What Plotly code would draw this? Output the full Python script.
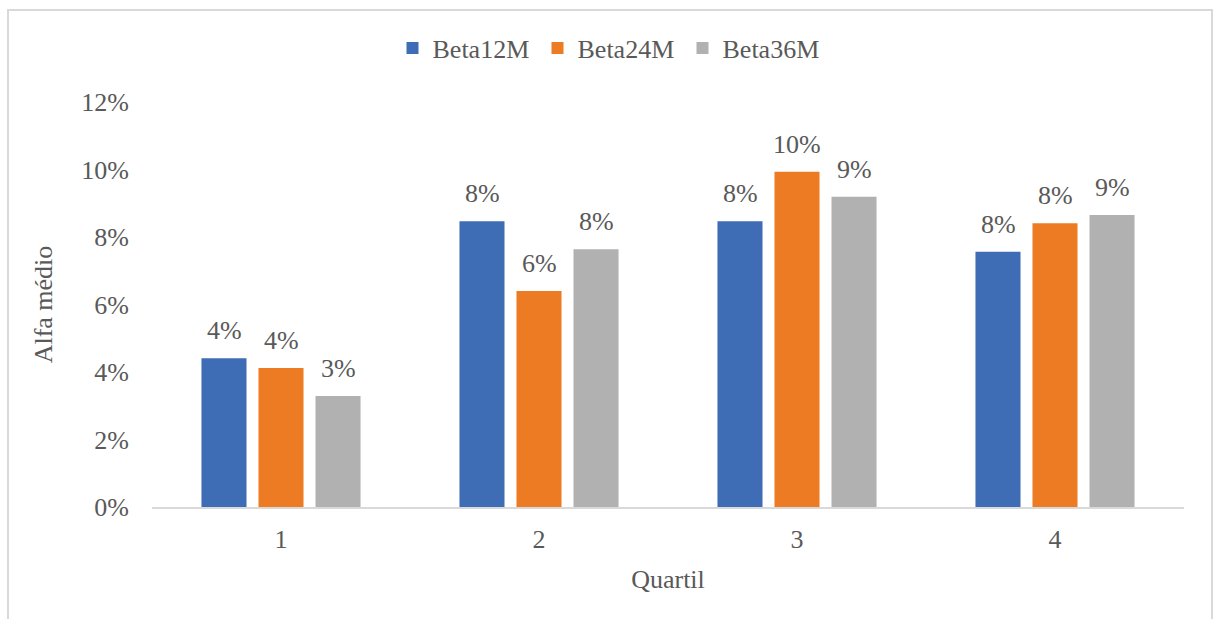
import plotly.graph_objects as go

quartis = ["1", "2", "3", "4"]
series_names = ["Beta12M", "Beta24M", "Beta36M"]
beta12m = [0.0441, 0.0847, 0.0847, 0.0756]
beta24m = [0.0412, 0.0640, 0.0993, 0.0841]
beta36m = [0.0329, 0.0764, 0.0919, 0.0865]
y_ticks = [0, 0.02, 0.04, 0.06, 0.08, 0.10, 0.12]

colors = ["#3e6cb5", "#ec7b24", "#b1b1b2"]
text_color = "#595959"
font_family = "Liberation Serif"
fsize = 26

fig = go.Figure()
all_series = [beta12m, beta24m, beta36m]
for name, vals, col in zip(series_names, all_series, colors):
    fig.add_trace(go.Bar(
        x=quartis, y=vals, name=name,
        marker=dict(color=col, line=dict(width=0)),
    ))

# value labels above each bar, offset to its slot inside the group
slot_px = 57
for i, vals in enumerate(all_series):
    for qi, v in enumerate(vals):
        fig.add_annotation(
            x=qi, y=v, xref="x", yref="y",
            text=f"{round(v * 100):.0f}%",
            showarrow=False, xshift=(i - 1) * slot_px, yshift=11,
            yanchor="bottom", xanchor="center",
            font=dict(family=font_family, size=fsize, color=text_color),
        )

# light chart border
W, H = 1216, 619
L, R, T, B = 152, 32, 102, 112
pw, ph = W - L - R, H - T - B
fig.add_shape(
    type="rect", xref="paper", yref="paper",
    x0=(8 - L) / pw, x1=(1212 - L) / pw,
    y0=(H - B - 640) / ph, y1=(H - B - 10) / ph,
    line=dict(color="#d9d9d9", width=2), fillcolor="rgba(0,0,0,0)",
    layer="below",
)

fig.update_layout(
    width=W, height=H,
    margin=dict(l=L, r=R, t=T, b=B),
    paper_bgcolor="white", plot_bgcolor="white",
    barmode="group", bargap=0.337, bargroupgap=0.21,
    font=dict(family=font_family, size=fsize, color=text_color),
    showlegend=True,
    legend=dict(
        orientation="h", x=(610 - L) / pw, xanchor="center",
        y=(H - B - 48) / ph, yanchor="middle",
        font=dict(family=font_family, size=fsize, color=text_color),
        itemwidth=30, tracegroupgap=0, entrywidth=100,
    ),
    xaxis=dict(
        type="category", range=[-0.5, 3.5], autorange=False,
        showgrid=False, zeroline=False,
        showline=True, linecolor="#d9d9d9", linewidth=2,
        ticks="", ticklabelstandoff=8,
        title=dict(text="Quartil", standoff=17,
                   font=dict(family=font_family, size=fsize, color=text_color)),
        tickfont=dict(family=font_family, size=fsize, color=text_color),
    ),
    yaxis=dict(
        range=[0, 0.12], autorange=False, tickvals=y_ticks, tickformat=".0%",
        showgrid=False, zeroline=False, showline=False, ticks="",
        ticklabelstandoff=22,
        title=dict(text="Alfa médio", standoff=21,
                   font=dict(family=font_family, size=fsize, color=text_color)),
        tickfont=dict(family=font_family, size=fsize, color=text_color),
    ),
)

fig.write_html("out.html")
